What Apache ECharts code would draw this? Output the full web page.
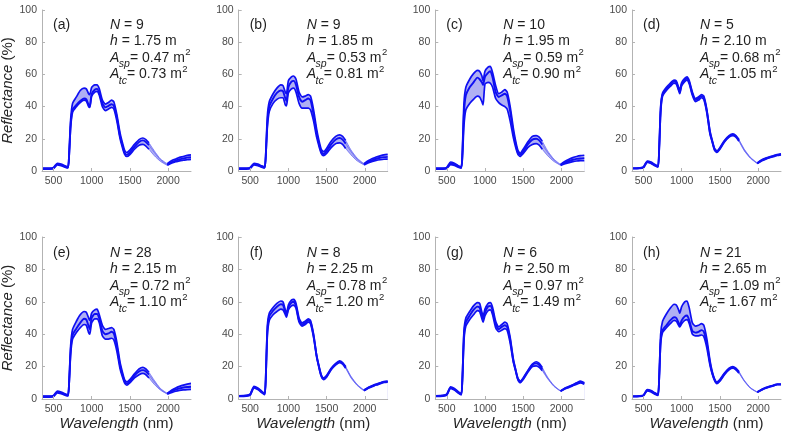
<!DOCTYPE html>
<html><head><meta charset="utf-8">
<script src="https://cdn.jsdelivr.net/npm/echarts@6/dist/echarts.min.js"></script>
<style>html,body{margin:0;padding:0;background:#fff}#c{width:786px;height:438px}</style>
</head><body><div id="c"></div>
<script>
// ---------- data ----------
const wavelengths = [350,450,500,550,600,650,690,705,725,750,800,850,900,930,960,975,1000,1040,1070,1100,1140,1180,1220,1260,1290,1330,1370,1400,1430,1460,1500,1560,1620,1670,1710,1750,1820,1900,1990,2050,2100,2150,2200,2250,2300];
const xTicks = [500,1000,1500,2000];
const yTicks = [0,20,40,60,80,100];
const panelLabels = ['(a)','(b)','(c)','(d)','(e)','(f)','(g)','(h)'];
const nValues = ['9','9','10','5','28','8','6','21'];
const hValues = ['1.75','1.85','1.95','2.10','2.15','2.25','2.50','2.65'];
const aspValues = ['0.47','0.53','0.59','0.68','0.72','0.78','0.97','1.09'];
const atcValues = ['0.73','0.81','0.90','1.05','1.10','1.20','1.49','1.67'];

const upperA = [1.8,1.8,2.2,4.8,4.3,3.2,2.6,12,32,42,46,50,51.5,51,48,47.5,52,53.5,53.5,51,44,41.5,42.5,44,43,35,24,18,13,11.5,13,16.5,19.5,20.5,19.5,17.5,12.5,7.5,4.5,6.5,7.5,8.5,9,9.7,10];
const meanA  = [1.5,1.5,1.8,4.3,3.8,2.8,2.2,10,29,38,41,43.5,45,44.5,41,40,48,50.5,51,48.5,42,39.5,40.5,41.5,40.5,33,22,16.5,11.5,10,11.5,15,18,19,18,16,11.5,7,4,5.5,6.5,7.3,7.8,8.3,8.5];
const lowerA = [1.2,1.2,1.5,3.8,3.3,2.4,1.9,9,27,36.5,40,42.5,44,43.5,40,39.5,46.5,49,49.5,47,40,37.5,38.5,39.5,38.5,31,20.5,15,10.5,9,10.2,13.5,16,16.5,15.5,13.5,9.5,6,3.5,5,5.8,6.3,6.8,7,7.2];

const upperB = [1.8,1.8,2.2,4.8,4.3,3.2,2.5,12,34,43,48,51.5,53.5,53,49,48,56,58.5,59,57,49,46,46.5,47.5,46.5,38,26,19,13.5,12,14,18.5,21.5,22.5,21.5,19,13,8,4.5,6.5,7.7,8.7,9.4,10,10.3];
const meanB  = [1.5,1.5,1.9,4.3,3.8,2.8,2.2,10,30,40,45,48.5,50,49.5,45,43.5,52,55.5,56,53.5,46,43,44,45,44,35,23.5,17,12,10.5,12.5,16.5,19.5,20.5,19.5,17,12,7.3,4.2,5.8,6.8,7.6,8.2,8.6,8.8];
const lowerB = [1.2,1.2,1.5,3.8,3.3,2.4,1.9,9,27,37,42,44.5,45.5,45.5,41,40.5,48.5,51,51.5,49,42,39,39,39,38,31,21,15.5,11,9.5,11,14.5,17,17.5,16.5,14,10,6.3,3.8,5.2,6,6.6,7,7.3,7.4];

const upperC = [1.8,1.8,2.3,5.6,4.8,3.3,2.6,14,42,52,57,60.5,62.5,62,59,56,62,64.5,65,61,53,48,49,50.5,49,40,27,19,13,11,13.5,18,21.5,22,21,18.5,12.5,7.5,4,6,7.3,8.3,9,9.5,9.8];
const meanC  = [1.5,1.5,1.9,4.8,4.2,2.9,2.2,11,36,47,52,55,58,57,55,53.5,58.5,61,62,58,49,46,47,48,46.5,37,24,17,11.5,10,12,16.5,19.5,20,19,16.5,11.5,7,3.8,5.3,6.2,7,7.5,7.8,8];
const lowerC = [1.2,1.2,1.5,4,3.5,2.4,1.8,8,28,38,42,44.5,46.5,46,43,41,54,55,54.5,52,45,42.5,41,40,38.5,31,21,15,10.5,9,10.8,14.5,16.5,17,16,13.5,9.5,6,3.5,4.6,5.2,5.8,6.2,6.4,6.5];

const upperD = [1.8,2,2.6,6.2,5.5,4,3,14,40,48.5,52,54.5,56.5,56,52,50,55,57.5,58.5,56,49,45,46,47.5,46.5,38,25,19,14,12.5,14.5,19,22,23,22,19.5,13.5,8.5,5,7,8,8.8,9.5,10.2,10.6];
const meanD  = [1.6,1.8,2.3,5.8,5.1,3.6,2.7,13,38,47.5,51,53.5,55.5,55,51,49,54,56.5,57.5,55,48,44,45,46.5,45.5,37,24,18.5,13.5,12,14,18.5,21.5,22.5,21.5,19,13,8.2,4.8,6.7,7.7,8.5,9.2,9.9,10.3];
const lowerD = [1.4,1.6,2,5.4,4.7,3.2,2.4,12,36,46.5,50,52.5,54.5,54,50,48,53,55.5,56.5,54,47,43,44,45.5,44.5,36,23,18,13,11.5,13.5,18,21,22,21,18.5,12.5,7.9,4.6,6.4,7.4,8.2,8.9,9.6,10];

const upperE = [1.8,1.8,2.2,4.8,4.3,3.2,2.6,12,33,43,48,52,54,53.5,50,48.5,53,55,55.5,52,45.5,43,43.5,44,43,35,23,17,12,10.5,12,15.5,18.5,19.5,18.5,16.5,11.5,6.5,3.5,5.5,6.8,7.8,8.6,9.2,9.6];
const meanE  = [1.5,1.5,1.8,4.3,3.8,2.8,2.2,10,30,39.5,43.5,47,49.5,49,45,43,50,52.5,52.5,49.5,42,40,40.5,41.5,40.5,32.5,21,15.5,11,9.5,11,14.5,17,17.8,17,15,10.5,6,3.3,4.8,5.8,6.6,7.1,7.4,7.6];
const lowerE = [1.2,1.2,1.5,3.8,3.3,2.4,1.9,9,27.5,37,41,44,46,45.5,41,40,47,49.5,49.5,47,39,37,37,37.5,36.5,29.5,19,14,10,8.5,10,13,15,15.8,15,13,9,5.5,3,4,4.8,5.3,5.6,5.8,5.9];

const upperF = [2,2.2,3,7.8,6.8,4.8,3.3,16,45,53,56.5,59,60.5,60,55,52.5,58,61,61.5,59,50,47,48,49.5,48.5,40,27,20.5,15,13,14.5,19,22,23.5,22.5,20,14,9,5.5,7.2,8.3,9.2,10,10.8,11];
const meanF  = [1.8,2,2.7,7.3,6.3,4.4,3,14,42,51,54.5,57,58.5,58,53.5,51.5,56.5,59.5,60,57.5,48.5,46,47,48.5,47.5,39,26.5,20,14.5,12.5,14,18.5,21.5,23,22,19.5,13.5,8.7,5.3,7,8,8.9,9.7,10.5,10.7];
const lowerF = [1.6,1.8,2.4,6.8,5.8,4,2.7,12,39,48.5,52,54,55.5,55,52,50.5,55,57.5,58,56,47.5,45,46,47.5,46.5,38,26,19.5,14,12,13.5,18,21,22.5,21.5,19,13,8.4,5.1,6.8,7.7,8.6,9.4,10.2,10.4];

const upperG = [2,2.2,3,7.5,6.5,4.5,3.2,15,42,50,54,57.5,59.5,59,53.5,51,55.5,59,59.5,56.5,48,44.5,46,47.5,46.5,38,25,18.5,13,11,13,17.5,21.5,23,22,19.5,13.5,8.5,5,6.8,7.8,8.8,10,11,10];
const meanG  = [1.8,2,2.7,7,6,4.1,2.9,13,39,47.5,51.5,55,57,56.5,51.5,49.5,53.5,57,57.5,54.5,46,43,44.5,45.5,44.5,36.5,24,18,12.5,10.5,12.5,17,21,22,21,18.5,13,8.2,4.9,6.6,7.5,8.5,9.6,10.5,9.6];
const lowerG = [1.6,1.8,2.4,6.5,5.5,3.7,2.6,11,36,45,49,52,54.5,54,49.5,47.5,51.5,54.5,55,52,44,41.5,42.5,43.5,42.5,34.5,23,17.5,12,10,12,16.5,20,20.5,19.5,17.5,12.5,7.9,4.8,6.4,7.2,8.2,9.2,10,9.2];

const upperH = [1.8,2,2.4,5.8,5.2,3.8,2.8,14,40,48,52.5,56,58.5,58,55,53,57,60,60.5,56,47,45,45.5,46.5,45.5,37,24,17,12.5,10.5,12,16,19,20,19,17,11.5,7,4.3,6,7,7.8,8.5,9.2,9.2];
const meanH  = [1.6,1.8,2.2,5.4,4.8,3.4,2.5,12,36,42.5,45.5,48.5,50.5,50,47,45.5,48.5,51,51.5,48.5,42,41,41.5,42.5,41.5,34,22.5,16,12,10,11.5,15.5,18.5,19.5,18.5,16.5,11.2,6.8,4.2,5.8,6.8,7.6,8.3,9,9];
const lowerH = [1.4,1.6,2,5,4.4,3,2.2,11,34,41,44,46.5,48.5,48,45.5,44.5,46.5,48.5,49,46.5,40,39,39,39.5,38.5,31.5,21,15.5,11.5,9.5,11,15,18,19,18,16,10.9,6.6,4.1,5.6,6.6,7.4,8.1,8.8,8.8];

const uppers = [upperA,upperB,upperC,upperD,upperE,upperF,upperG,upperH];
const means  = [meanA,meanB,meanC,meanD,meanE,meanF,meanG,meanH];
const lowers = [lowerA,lowerB,lowerC,lowerD,lowerE,lowerF,lowerG,lowerH];

// ---------- layout / style ----------
const FONT = '"Liberation Sans", Arial, Helvetica, sans-serif';
const colLeft = [42, 238.7, 435.3, 632];
const gridWidth = 149;
const rowTop = [10, 237];
const gridHeight = [161, 162];
const textTop = [24.7, 252.7];
const lineStep = 16.5;
const axisColor = '#b3b3b3';
const labelColor = '#4a4a4a';
const textColor = '#1f1f1f';
const lineColor = '#0f0ff2';
const fillColor = '#b0b0f3';
const gapStart = 1750, gapEnd = 1990;
const SMOOTH = 0.2;

const measureCtx = document.createElement('canvas').getContext('2d');
function textWidth(t, size, italic) {
  measureCtx.font = (italic ? 'italic ' : '') + size + 'px ' + FONT;
  return measureCtx.measureText(t).width;
}

const chart = echarts.init(document.getElementById('c'), null, {renderer:'canvas'});
const option = {animation:false, backgroundColor:'#fff', grid:[], xAxis:[], yAxis:[], series:[], graphic:[]};

const richTitle = {
  i:{fontStyle:'italic', fontSize:15, fontFamily:FONT, color:'#262626'},
  n:{fontSize:15, fontFamily:FONT, color:'#262626'}
};

function txt(x, y, t, size, italic) {
  option.graphic.push({type:'text', x:x, y:y, silent:true, z:10,
    style:{text:t, fontSize:size, fontStyle: italic ? 'italic' : 'normal', fontFamily:FONT,
           fill:textColor, align:'left', verticalAlign:'middle'}});
  return x + textWidth(t, size, italic);
}

const MAIN = 14, SUB = 10.5, SUP = 9.5;

for (let k = 0; k < 8; k++) {
  const col = k % 4, row = Math.floor(k / 4);
  option.grid.push({left:colLeft[col], top:rowTop[row], width:gridWidth, height:gridHeight[row], containLabel:false, outerBoundsMode:'none'});
  option.xAxis.push({
    gridIndex:k, type:'value', min:350, max:2300, z:5,
    axisLine:{show:true, onZero:false, lineStyle:{color:axisColor, width:1}},
    axisTick:{show:true, inside:true, length:3, customValues:xTicks, lineStyle:{color:axisColor}},
    axisLabel:{customValues:xTicks, fontSize:10.5, fontFamily:FONT, color:labelColor, margin:5, formatter: v => String(v)},
    splitLine:{show:false},
    name: row === 1 ? '{i|Wavelength} {n|(nm)}' : '',
    nameLocation:'middle', nameGap:14,
    nameTextStyle:{rich:richTitle, fontSize:15, fontFamily:FONT}
  });
  option.yAxis.push({
    gridIndex:k, type:'value', min:yTicks[0], max:yTicks[yTicks.length-1], interval:20, z:5,
    axisLine:{show:true, lineStyle:{color:axisColor, width:1}},
    axisTick:{show:true, inside:true, length:3, lineStyle:{color:axisColor}},
    axisLabel:{fontSize:10.5, fontFamily:FONT, color:labelColor, margin:5, formatter: v => String(v)},
    splitLine:{show:false},
    name: col === 0 ? '{i|Reflectance} {n|(%)}' : '',
    nameLocation:'middle', nameGap:19, nameRotate:90,
    nameTextStyle:{rich:richTitle, fontSize:15, fontFamily:FONT}
  });

  const up = uppers[k], mn = means[k], lo = lowers[k];
  // shaded band: area under upper bound, masked with white under lower bound
  option.series.push({
    type:'line', xAxisIndex:k, yAxisIndex:k, symbol:'none', silent:true, smooth:SMOOTH,
    lineStyle:{width:0, opacity:0}, areaStyle:{color:fillColor, opacity:1},
    data: wavelengths.map((w,i)=>[w, up[i]]), z:1
  });
  option.series.push({
    type:'line', xAxisIndex:k, yAxisIndex:k, symbol:'none', silent:true, smooth:SMOOTH,
    lineStyle:{width:0, opacity:0}, areaStyle:{color:'#ffffff', opacity:1},
    data: wavelengths.map((w,i)=>[w, lo[i]]), z:1
  });
  // thick measured lines (water band excluded) and thin lines across the water band
  [[up,1.7],[lo,1.7],[mn,1.9]].forEach(([arr,wd])=>{
    option.series.push({
      type:'line', xAxisIndex:k, yAxisIndex:k, symbol:'none', silent:true, smooth:SMOOTH, connectNulls:false,
      lineStyle:{color:lineColor, width:wd},
      data: wavelengths.map((w,i)=> (w > gapStart && w < gapEnd) ? [w, '-'] : [w, arr[i]]), z:3
    });
    option.series.push({
      type:'line', xAxisIndex:k, yAxisIndex:k, symbol:'none', silent:true, smooth:SMOOTH,
      lineStyle:{color:'#5a5af5', width:0.7},
      data: wavelengths.map((w,i)=>[w, arr[i]]).filter(p => p[0] >= gapStart && p[0] <= gapEnd), z:2
    });
  });

  // annotations
  const x0 = colLeft[col];
  const ty = textTop[row];
  txt(x0 + 11, ty, panelLabels[k], MAIN, false);
  let x = txt(x0 + 68, ty, 'N', MAIN, true);
  txt(x, ty, ' = ' + nValues[k], MAIN, false);
  x = txt(x0 + 68, ty + lineStep, 'h', MAIN, true);
  txt(x, ty + lineStep, ' = ' + hValues[k] + ' m', MAIN, false);
  [[aspValues[k], 'sp', 2], [atcValues[k], 'tc', 3]].forEach(([val, sub, li]) => {
    const yy = ty + li * lineStep;
    let xx = txt(x0 + 68, yy, 'A', MAIN, true);
    xx = txt(xx - 0.5, yy + 6.5, sub, SUB, true);
    xx = txt(xx, yy, '= ' + val + ' m', MAIN, false);
    txt(xx + 0.5, yy - 5, '2', SUP, false);
  });
}

chart.setOption(option);
</script>
</body></html>
